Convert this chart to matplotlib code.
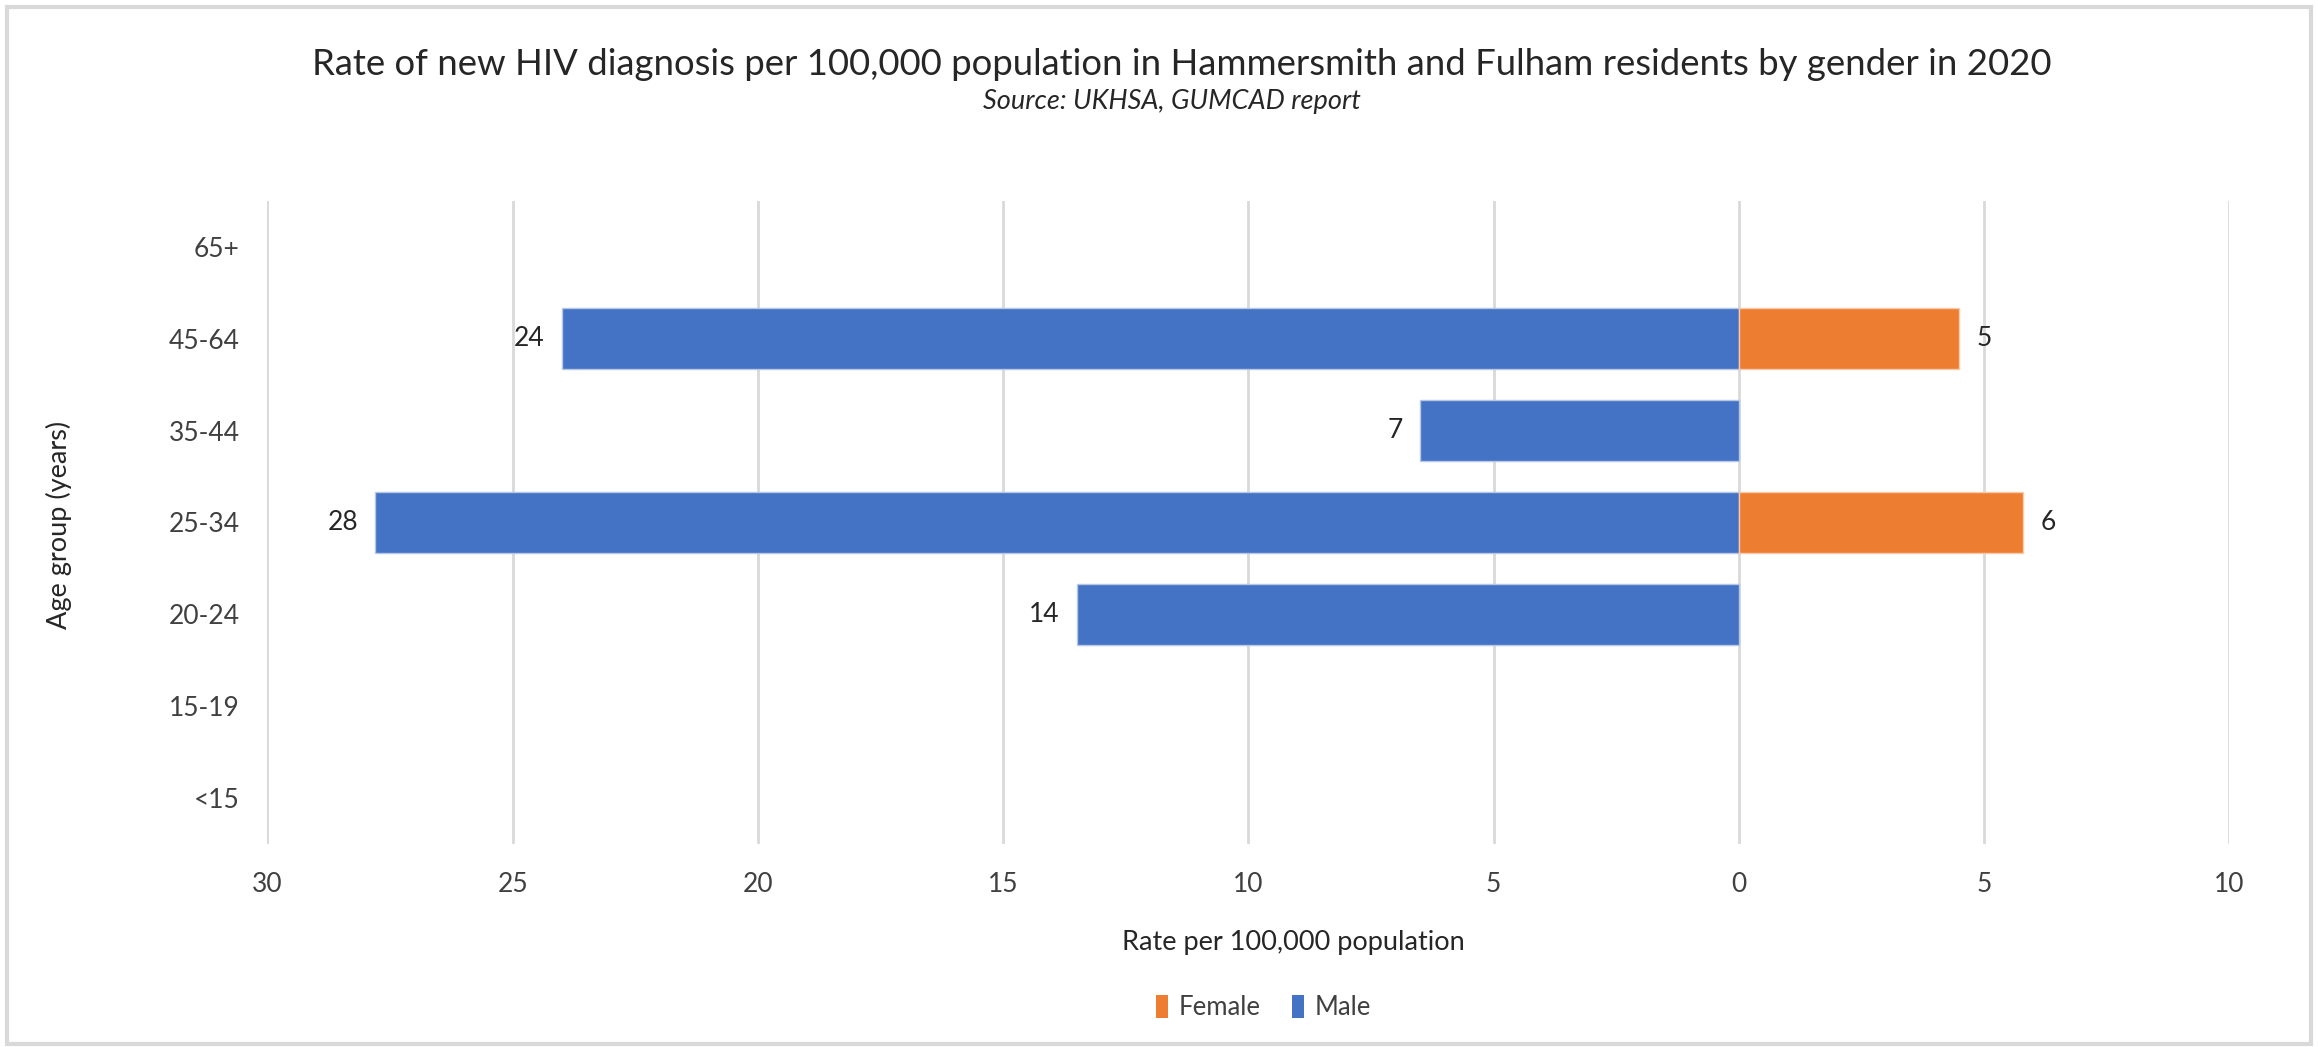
import numpy as np
import matplotlib.pyplot as plt
from matplotlib.patches import Rectangle

plt.rcParams['font.family'] = ['Lato', 'DejaVu Sans']

# 数据
age_groups = ['<15', '15-19', '20-24', '25-34', '35-44', '45-64', '65+']
male = [0, 0, 13.5, 27.8, 6.5, 24.0, 0]
female = [0, 0, 0, 5.8, 0, 4.5, 0]
x_ticks = [-30, -25, -20, -15, -10, -5, 0, 5, 10]

blue = '#4472C4'
orange = '#ED7D31'

fig = plt.figure(figsize=(23.18, 10.47), dpi=100)
ax = fig.add_axes([0.1154, 0.194, 0.8463, 0.614])

y = np.arange(len(age_groups))
male_neg = -np.array(male)
ax.barh(y, male_neg, height=0.66, color=blue, edgecolor='#b4c7e7',
        linewidth=[1 if v > 0 else 0 for v in male], label='Male', zorder=3)
ax.barh(y, female, height=0.66, color=orange, edgecolor='#f8cbad',
        linewidth=[1 if v > 0 else 0 for v in female], label='Female', zorder=3)

# 数据标签 (四舍五入)
for yi, v in zip(y, male):
    if v > 0:
        ax.text(-v - 0.35, yi, str(int(np.floor(v + 0.5))), ha='right', va='center', fontsize=19, color='#262626')
for yi, v in zip(y, female):
    if v > 0:
        ax.text(v + 0.35, yi, str(int(np.floor(v + 0.5))), ha='left', va='center', fontsize=19, color='#262626')

ax.set_xlim(-30, 10)
ax.set_ylim(-0.5, len(age_groups) - 0.5)
ax.set_xticks(x_ticks)
ax.set_xticklabels([str(abs(t)) for t in x_ticks])
ax.set_yticks(y)
ax.set_yticklabels(age_groups)
ax.tick_params(axis='both', length=0, labelsize=19, labelcolor='#404040')
ax.tick_params(axis='x', pad=20)
ax.tick_params(axis='y', pad=20)

ax.grid(axis='x', color='#d9d9d9', linewidth=2, zorder=0)
ax.set_axisbelow(True)
for s in ax.spines.values():
    s.set_visible(False)

fig.text(0.558, 0.1, 'Rate per 100,000 population', ha='center', va='center', fontsize=19.5, color='#262626')
fig.text(0.0255, 0.499, 'Age group (years)', rotation=90, ha='center', va='center', fontsize=19.5, color='#262626')

fig.text(0.5096, 0.938, 'Rate of new HIV diagnosis per 100,000 population in Hammersmith and Fulham residents by gender in 2020',
         ha='center', va='center', fontsize=26.3, color='#262626')
fig.text(0.5054, 0.903, 'Source: UKHSA, GUMCAD report', ha='center', va='center', fontsize=19.5,
         style='italic', color='#262626')

handles, labels = ax.get_legend_handles_labels()
fig.legend(handles[::-1], labels[::-1], loc='center', bbox_to_anchor=(0.545, 0.038), ncol=2, frameon=False,
           fontsize=18.5, handlelength=0.5, handleheight=1.0, handletextpad=0.4, columnspacing=1.2,
           labelcolor='#404040')

fig.patches.append(Rectangle((0.003, 0.003), 0.994, 0.99, transform=fig.transFigure, fill=False,
                             edgecolor='#d9d9d9', linewidth=3))

plt.savefig('out.png', dpi=100)
